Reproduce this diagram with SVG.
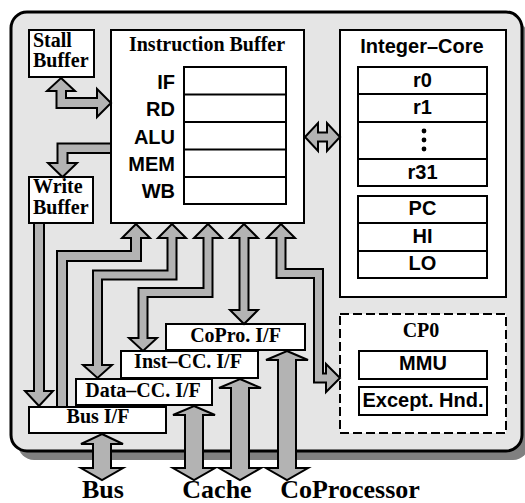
<svg xmlns="http://www.w3.org/2000/svg" width="525" height="503" viewBox="0 0 525 503">
<style>
.box{fill:#fff;stroke:#000;stroke-width:2}
.arr{fill:#b3b3b3;stroke:#000;stroke-width:2;stroke-linejoin:miter}
.tr{font-family:"Liberation Serif","Times New Roman",serif;font-weight:bold;font-size:20px;fill:#000}
.hv{font-family:"Liberation Sans",Arial,sans-serif;font-weight:bold;font-size:20px;fill:#000}
.big{font-family:"Liberation Serif","Times New Roman",serif;font-weight:bold;font-size:26px;fill:#000;text-anchor:middle}
.c{text-anchor:middle}
.e{text-anchor:end}
.ln{stroke:#000;stroke-width:2;fill:none}
</style>
<g id="chip">
<rect x="18" y="22" width="511" height="438" rx="16" fill="#808080"/>
<rect x="11" y="12" width="511" height="439" rx="16" fill="#e5e5e5" stroke="#000" stroke-width="3"/>
</g>
<g id="stall-buffer">
<rect class="box" x="29" y="30" width="65" height="47"/>
<text class="tr" x="33" y="47">Stall</text>
<text class="tr" x="33" y="67">Buffer</text>
</g>
<g id="write-buffer">
<rect class="box" x="29" y="177" width="64" height="46"/>
<text class="tr" x="33" y="193">Write</text>
<text class="tr" x="33" y="213.5">Buffer</text>
</g>
<g id="instruction-buffer">
<rect class="box" x="111" y="30" width="193" height="193"/>
<text class="tr c" x="207" y="51">Instruction Buffer</text>
<rect class="box" x="184" y="67" width="102" height="137"/>
<path class="ln" d="M184 94.5H286M184 122H286M184 149.5H286M184 177H286"/>
<text class="hv e" x="175" y="89">IF</text>
<text class="hv e" x="175" y="116">RD</text>
<text class="hv e" x="175" y="144">ALU</text>
<text class="hv e" x="175" y="171">MEM</text>
<text class="hv e" x="175" y="198">WB</text>
</g>
<g id="integer-core">
<rect class="box" x="340" y="30" width="166" height="267"/>
<text class="hv c" x="422" y="53">Integer–Core</text>
<rect class="box" x="358" y="67" width="129" height="119"/>
<path class="ln" d="M358 94H487M358 122H487M358 159H487"/>
<text class="hv c" x="422.5" y="87">r0</text>
<text class="hv c" x="422.5" y="114">r1</text>
<circle cx="424" cy="131" r="2.4"/>
<circle cx="424" cy="140" r="2.4"/>
<circle cx="424" cy="149" r="2.4"/>
<text class="hv c" x="422.5" y="179">r31</text>
<rect class="box" x="358" y="196" width="129" height="82"/>
<path class="ln" d="M358 223H487M358 251H487"/>
<text class="hv c" x="422.5" y="215">PC</text>
<text class="hv c" x="422.5" y="243">HI</text>
<text class="hv c" x="422.5" y="270">LO</text>
</g>
<g id="cp0">
<rect x="340" y="314" width="166" height="119" fill="#fff" stroke="#000" stroke-width="2" stroke-dasharray="9,4"/>
<text class="tr c" x="421" y="337">CP0</text>
<rect class="box" x="359" y="351" width="128" height="28"/>
<text class="hv c" x="423" y="370">MMU</text>
<rect class="box" x="359" y="387" width="128" height="28"/>
<text class="hv c" x="423" y="407">Except. Hnd.</text>
</g>
<g id="copro-if">
<rect class="box" x="166" y="324" width="139" height="26"/>
<text class="tr c" x="235.5" y="342">CoPro. I/F</text>
</g>
<g id="inst-cc-if">
<rect class="box" x="121" y="351" width="137" height="27"/>
<text class="tr c" x="188" y="368">Inst–CC. I/F</text>
</g>
<g id="data-cc-if">
<rect class="box" x="76" y="379" width="136" height="26"/>
<text class="tr c" x="143" y="397">Data–CC. I/F</text>
</g>
<g id="bus-if">
<rect class="box" x="29" y="407" width="137" height="26"/>
<text class="tr c" x="98" y="423">Bus I/F</text>
</g>
<g id="connectors">
<polygon class="arr" points="61,78 75,91 66,91 66,98 97,98 97,89 111,103 97,117 97,108 56.5,108 56.5,91 47,91"/>
<polygon class="arr" points="111,143.5 57.5,143.5 57.5,163 48,163 62.5,177 77,163 67.5,163 67.5,153 111,153"/>
<polygon class="arr" points="34,223 34,391 25,391 39,406 53,391 44,391 44,223"/>
<polygon class="arr" points="136,224 150,238 141,238 141,261 67,261 67,407 57,407 57,251 131,251 131,238 122,238"/>
<polygon class="arr" points="172,224 186,238 176.5,238 176.5,279.5 102,279.5 102,365 112,365 97.5,378 83,365 93,365 93,270.5 167.5,270.5 167.5,238 158,238"/>
<polygon class="arr" points="208,224 222,238 212.5,238 212.5,297 147.5,297 147.5,338 157,338 143,351 129,338 138.5,338 138.5,288 203.5,288 203.5,238 194,238"/>
<polygon class="arr" points="244,224 258,238 248.5,238 248.5,310 258,310 244,324 230,310 239.5,310 239.5,238 230,238"/>
<polygon class="arr" points="281,224 295,238 285.5,238 285.5,269 323,269 323,373.5 326,373.5 326,364 340,378 326,392 326,382.5 314,382.5 314,278 276.5,278 276.5,238 267,238"/>
<polygon class="arr" points="305,137 318,123 318,132.5 327,132.5 327,123 340,137 327,151 327,141.5 318,141.5 318,151"/>
<polygon class="arr" points="102,434 123,444 111,444 111,468 123,468 102,480 81,468 93,468 93,444 81,444"/>
<polygon class="arr" points="194,406 215,415 203,415 203,468 215,468 194,480 173,468 185,468 185,415 173,415"/>
<polygon class="arr" points="240,379 261,388 249,388 249,468 261,468 240,480 219,468 231,468 231,388 219,388"/>
<polygon class="arr" points="287,351 308,360 296,360 296,468 308,468 287,480 266,468 278,468 278,360 266,360"/>
</g>
<g id="labels">
<text class="big" x="103" y="498">Bus</text>
<text class="big" x="217" y="498">Cache</text>
<text class="big" x="350" y="498">CoProcessor</text>
</g>
</svg>
